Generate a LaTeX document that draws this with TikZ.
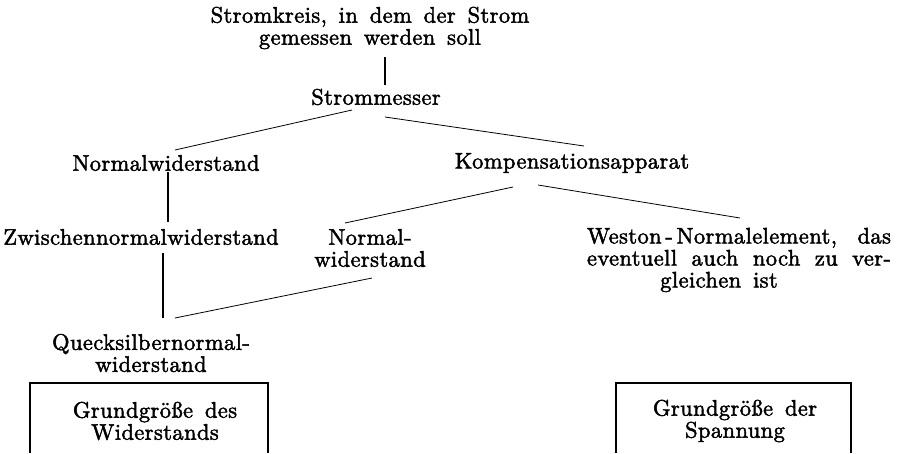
\documentclass[tikz,border=0pt]{standalone}
\usepackage{fontspec}
\newfontfamily\diafont{lmroman10-regular.otf}[LetterSpace=1.8, WordSpace=1.5, FakeBold=2]
\usetikzlibrary{calc}
\begin{document}
\begin{tikzpicture}[x=1pt,y=-1pt,
  txt/.style={inner sep=0pt, align=center, font=\diafont\fontsize{22.5}{22}\selectfont},
  vline/.style={line width=1.4pt},
  sline/.style={line width=0.8pt},
  boxline/.style={line width=1.1pt}]
\useasboundingbox (0,0) rectangle (901,453);
% nodes
\node[txt] (top) at (370,28) {Stromkreis, in dem der Strom\\gemessen werden soll};
\node[txt] (strom) at (376,97) {Strommesser};
\node[txt] (nw) at (166,163) {Normalwiderstand};
\node[txt] (komp) at (572,163) {Kompensationsapparat};
\node[txt] (zw) at (141,237) {Zwischennormalwiderstand};
\node[txt] (nw2) at (370,248) {Normal-\\widerstand};
\node[txt] (wes) at (739,260) {\makebox[304pt][s]{Weston\,-\,Normalelement, \ das}\\\makebox[304pt][s]{eventuell auch noch zu ver-}\\gleichen ist\hspace*{40pt}};
\node[txt] (qu) at (151,353) {Quecksilbernormal-\\widerstand};
\node[txt] (gd1) at (155,421) {Grundgröße des\\Widerstands};
\node[txt] (gd2) at (735,421) {Grundgröße der\\Spannung};
% connectors
\draw[vline] ($(top)+(15,29)$) -- ($(strom)+(9,-12)$);
\draw[sline] ($(strom)+(-24,13)$) -- ($(nw)+(9,-13)$);
\draw[sline] ($(strom)+(9,20)$) -- ($(komp)+(12,-17)$);
\draw[vline] ($(nw)+(2,9)$) -- ($(zw)+(27,-15)$);
\draw[sline] ($(komp)+(-59,24)$) -- ($(nw2)+(-25,-25)$);
\draw[sline] ($(komp)+(-34,22)$) -- ($(wes)+(1,-42)$);
\draw[vline] ($(zw)+(22,16)$) -- ($(qu)+(12,-35)$);
\draw[sline] ($(nw2)+(2,30)$) -- ($(qu)+(24,-35)$);
% boxes (open at the bottom)
\draw[boxline] ($(gd1)+(-125,32)$) -- ($(gd1)+(-125,-38)$) -- ($(gd1)+(113,-38)$) -- ($(gd1)+(113,32)$);
\draw[boxline] ($(gd2)+(-119,32)$) -- ($(gd2)+(-119,-38)$) -- ($(gd2)+(116,-38)$) -- ($(gd2)+(116,32)$);
\end{tikzpicture}
\end{document}
